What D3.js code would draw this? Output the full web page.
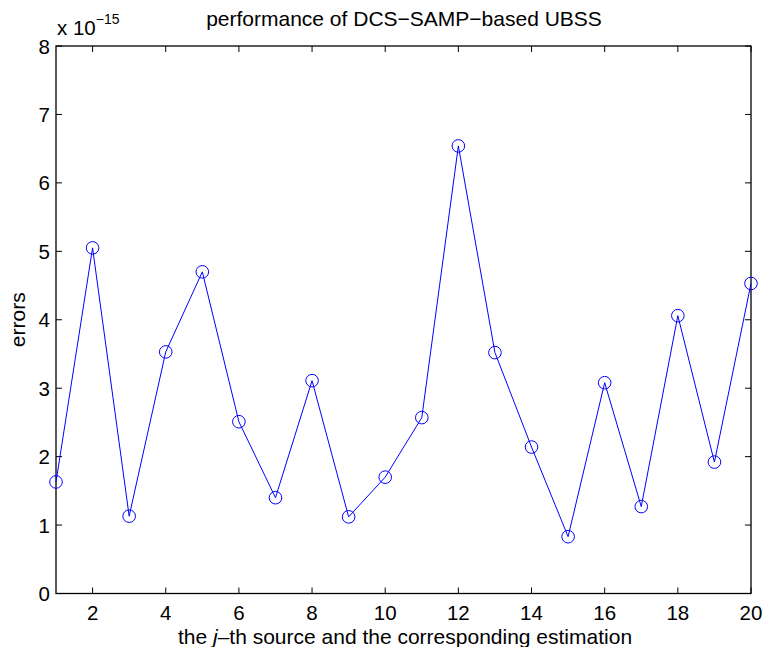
<!DOCTYPE html>
<html><head><meta charset="utf-8">
<script src="https://cdn.jsdelivr.net/npm/d3@7"></script>
<style>body{margin:0;background:#fff}svg{display:block}text{font-family:"Liberation Sans",Arial,Helvetica,sans-serif}</style>
</head><body>
<svg id="c" width="765" height="647"></svg>
<script>
const sources = [1,2,3,4,5,6,7,8,9,10,11,12,13,14,15,16,17,18,19,20];
const errors = [1.63,5.05,1.13,3.53,4.70,2.51,1.40,3.11,1.12,1.70,2.57,6.54,3.52,2.14,0.83,3.08,1.27,4.06,1.92,4.53];
const xTicks = [2,4,6,8,10,12,14,16,18,20];
const yTicks = [0,1,2,3,4,5,6,7,8];

const L=56,R=751,T=46,B=593.5;
const svg=d3.select("#c");
const x=d3.scaleLinear().domain([1,20]).range([L,R]);
const y=d3.scaleLinear().domain([0,8]).range([B,T]);
const tl=6, fs=20.5;
// ticks
const g=svg.append("g").attr("stroke","#000").attr("stroke-width",1);
xTicks.forEach(v=>{
  g.append("line").attr("x1",x(v)).attr("x2",x(v)).attr("y1",B).attr("y2",B-tl);
  g.append("line").attr("x1",x(v)).attr("x2",x(v)).attr("y1",T).attr("y2",T+tl);
});
yTicks.forEach(v=>{
  g.append("line").attr("x1",L).attr("x2",L+tl).attr("y1",y(v)).attr("y2",y(v));
  g.append("line").attr("x1",R).attr("x2",R-tl).attr("y1",y(v)).attr("y2",y(v));
});
svg.append("rect").attr("x",L).attr("y",T).attr("width",R-L).attr("height",B-T)
  .attr("fill","none").attr("stroke","#000").attr("stroke-width",1.3);
// tick labels
xTicks.forEach(v=>svg.append("text").attr("x",x(v)).attr("y",620).attr("text-anchor","middle")
  .attr("font-size",fs).text(v));
yTicks.forEach(v=>svg.append("text").attr("x",L-6).attr("y",y(v)+7.5).attr("text-anchor","end")
  .attr("font-size",fs).text(v));
// exponent
const ex=svg.append("text").attr("x",L+1).attr("y",35).attr("font-size",fs);
ex.append("tspan").text("x 10");
ex.append("tspan").attr("font-size",14).attr("dy",-11).text("\u221215");
// title
svg.append("text").attr("x",404).attr("y",26).attr("text-anchor","middle").attr("font-size",21)
  .text("performance of DCS\u2212SAMP\u2212based UBSS");
// x label
const xl=svg.append("text").attr("x",405).attr("y",644).attr("text-anchor","middle").attr("font-size",21);
xl.append("tspan").text("the ");
xl.append("tspan").attr("font-style","italic").text("j");
xl.append("tspan").text("\u2013th source and the corresponding estimation");
// y label
svg.append("text").attr("transform",`translate(25,${(T+B)/2}) rotate(-90)`).attr("text-anchor","middle")
  .attr("font-size",21).text("errors");
// line
svg.append("path").datum(errors).attr("fill","none").attr("stroke","#0000ff").attr("stroke-width",1)
  .attr("d",d3.line().x((d,i)=>x(sources[i])).y(d=>y(d)));
svg.selectAll("circle.m").data(errors).enter().append("circle")
  .attr("cx",(d,i)=>x(sources[i])).attr("cy",d=>y(d)).attr("r",6.3)
  .attr("fill","none").attr("stroke","#0000ff").attr("stroke-width",1);
</script>
</body></html>
